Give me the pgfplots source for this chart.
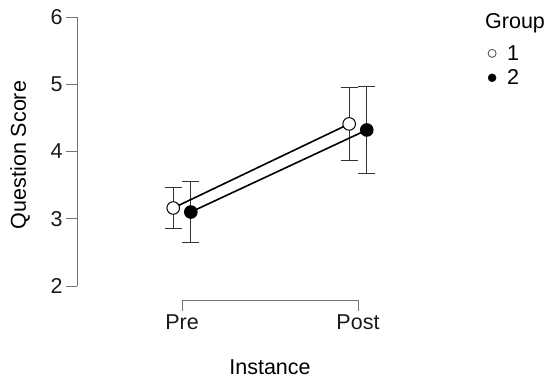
\documentclass[border=0pt]{standalone}
\usepackage{pgfplots}
\usepackage{pgfplotstable}
\pgfplotsset{compat=1.18}
\usepackage{fontspec}
\setmainfont{Liberation Sans}

% means and half-widths of the error bars; groups dodged by +-0.05
\pgfplotstableread{
x y e
-0.05 3.16 0.31
0.95 4.41 0.54
}\groupone
\pgfplotstableread{
x y e
0.05 3.10 0.45
1.05 4.32 0.65
}\grouptwo

\definecolor{axisgray}{gray}{0.45}
\definecolor{bargray}{gray}{0.2}
\newcommand{\bigfont}{\fontsize{21.5}{26}\selectfont}

\begin{document}
\begin{tikzpicture}[x=1pt,y=1pt,font=\bigfont]
\useasboundingbox (0,0) rectangle (552,379);
\begin{axis}[
  at={(77pt,79pt)}, anchor=south west,
  scale only axis, width=386pt, height=283pt,
  xmin=-0.597, xmax=1.597, ymin=1.792, ymax=6,
  clip=false,
  axis line style={draw=none},
  tick align=outside, xtick pos=bottom, ytick pos=left,
  major tick length=11pt,
  tick style={axisgray, line width=0.8pt},
  xtick={0,1}, xticklabels={Pre,Post},
  ytick={2,3,4,5,6}, yticklabels={2,3,4,5,6},
  ticklabel style={font=\bigfont, text=black!90},
  legend style={draw=none, fill=none, at={(rel axis cs:1.049,0.915)}, anchor=north west,
    font=\bigfont, row sep=4pt},
  legend cell align=left,
  legend image code/.code={%
    \path[draw=none, fill=none] (0pt,0pt) rectangle (20pt,0.1pt);
    \draw[#1] (7pt,0pt) circle (4pt);},
]
% axis lines spanning the tick range only
\draw[axisgray, line width=0.8pt] (axis cs:-0.597,2) -- (axis cs:-0.597,6);
\draw[axisgray, line width=0.8pt] (axis cs:0,1.792) -- (axis cs:1,1.792);

% error bars
\addplot[forget plot, draw=none, mark=none,
  error bars/.cd, y dir=both, y explicit,
  error bar style={draw=bargray, line width=1pt},
  error mark options={draw=bargray, line width=1pt, mark size=8.5pt, rotate=90}]
  table[x=x, y=y, y error=e] {\groupone};
\addplot[forget plot, draw=none, mark=none,
  error bars/.cd, y dir=both, y explicit,
  error bar style={draw=bargray, line width=1pt},
  error mark options={draw=bargray, line width=1pt, mark size=8.5pt, rotate=90}]
  table[x=x, y=y, y error=e] {\grouptwo};

% connecting lines
\addplot[forget plot, black, line width=1.6pt, mark=none] table[x=x, y=y] {\groupone};
\addplot[forget plot, black, line width=1.6pt, mark=none] table[x=x, y=y] {\grouptwo};

% means
\addplot[forget plot, only marks, mark=*, mark size=6.3pt,
  mark options={draw=black, fill=white, line width=1pt}] table[x=x, y=y] {\groupone};
\addplot[forget plot, only marks, mark=*, mark size=6.3pt,
  mark options={draw=black, fill=black, line width=1pt}] table[x=x, y=y] {\grouptwo};

\addlegendimage{draw=black!70, fill=white, line width=0.8pt}
\addlegendentry{1}
\addlegendimage{draw=black, fill=black}
\addlegendentry{2}
\end{axis}
\node[anchor=base west, inner sep=0pt] at (485,350) {Group};
\node[rotate=90] at (20,224) {Question Score};
\node at (270,12) {Instance};
\end{tikzpicture}
\end{document}
